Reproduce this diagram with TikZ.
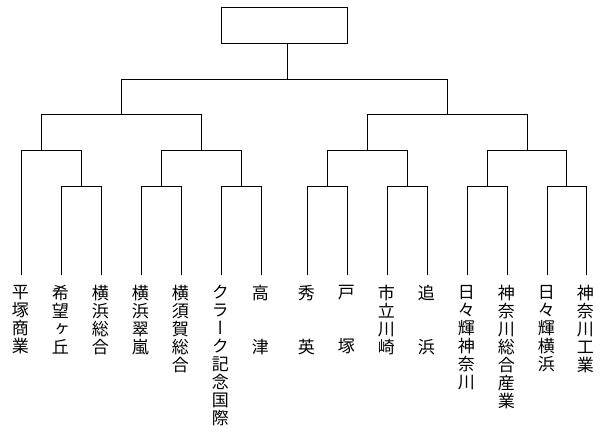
\documentclass[tikz,border=0pt]{standalone}
\usepackage{fontspec}
\newfontfamily\vjp[RawFeature=+vert]{Noto Sans CJK JP}
\begin{document}
\begin{tikzpicture}[x=1pt,y=-1pt,line width=1pt,
  school/.style={anchor=north,align=center,inner sep=0pt,font=\vjp\fontsize{17}{18}\selectfont},
  bracket/.style={draw=black,line width=1pt}]
\useasboundingbox (0,0) rectangle (603,438);
% champion box
\node[draw,line width=1pt,minimum width=126pt,minimum height=36pt,inner sep=0pt] (champ) at (284.3,25.3) {};
% leaf tops
\foreach \i/\x in {1/21.3,2/61.3,3/101.3,4/141.3,5/181.3,6/221.3,7/261.3,8/307.3,9/347.3,10/387.3,11/427.3,12/467.3,13/507.3,14/547.3,15/586.3}
  \coordinate (L\i) at (\x,275.3);
% joints
\coordinate (m1) at (81.3,186.3);
\coordinate (m2) at (161.3,186.3);
\coordinate (m3) at (241.3,186.3);
\coordinate (m4) at (327.3,186.3);
\coordinate (m5) at (407.3,186.3);
\coordinate (m6) at (487.3,186.3);
\coordinate (m7) at (566.3,186.3);
\coordinate (q1) at (41.3,150.3);
\coordinate (q2) at (201.3,150.3);
\coordinate (q3) at (367.3,150.3);
\coordinate (q4) at (527.3,150.3);
\coordinate (s1) at (121.3,114.3);
\coordinate (s2) at (447.3,114.3);
\coordinate (f) at (287.3,79.3);
% first round
\draw[bracket] (L2) |- (m1) -| (L3);
\draw[bracket] (L4) |- (m2) -| (L5);
\draw[bracket] (L6) |- (m3) -| (L7);
\draw[bracket] (L8) |- (m4) -| (L9);
\draw[bracket] (L10) |- (m5) -| (L11);
\draw[bracket] (L12) |- (m6) -| (L13);
\draw[bracket] (L14) |- (m7) -| (L15);
% second round
\draw[bracket] (L1) |- (q1) -| (m1);
\draw[bracket] (m2) |- (q2) -| (m3);
\draw[bracket] (m4) |- (q3) -| (m5);
\draw[bracket] (m6) |- (q4) -| (m7);
% semifinals
\draw[bracket] (q1) |- (s1) -| (q2);
\draw[bracket] (q3) |- (s2) -| (q4);
% final
\draw[bracket] (s1) |- (f) -| (s2);
\draw[bracket] (f) -- (f |- champ.south);
% school names
\node[school] (T1) at (20.3,285) {平\\塚\\商\\業};
\node[school] (T2) at (60.3,285) {希\\望\\ヶ\\丘};
\node[school] (T3) at (100.3,285) {横\\浜\\総\\合};
\node[school] (T4) at (140.3,285) {横\\浜\\翠\\嵐};
\node[school] (T5) at (180.3,285) {横\\須\\賀\\総\\合};
\node[school] (T6) at (220.3,285) {ク\\ラ\\ー\\ク\\記\\念\\国\\際};
\node[school] (T7) at (260.3,285) {高\\　\\　\\津};
\node[school] (T8) at (306.3,285) {秀\\　\\　\\英};
\node[school] (T9) at (346.3,285) {戸\\　\\　\\塚};
\node[school] (T10) at (386.3,285) {市\\立\\川\\崎};
\node[school] (T11) at (426.3,285) {追\\　\\　\\浜};
\node[school] (T12) at (466.3,285) {日\\々\\輝\\神\\奈\\川};
\node[school] (T13) at (506.3,285) {神\\奈\\川\\総\\合\\産\\業};
\node[school] (T14) at (546.3,285) {日\\々\\輝\\横\\浜};
\node[school] (T15) at (585.3,285) {神\\奈\\川\\工\\業};
\end{tikzpicture}
\end{document}
